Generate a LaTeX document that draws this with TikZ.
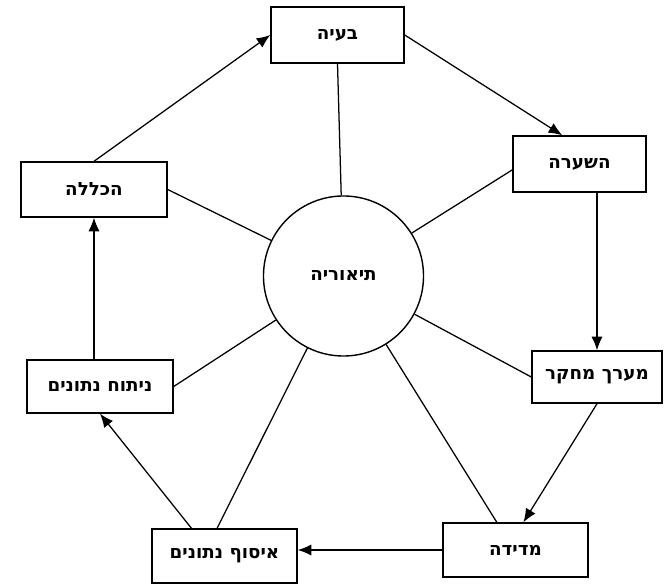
\documentclass[tikz,border=0pt]{standalone}
\usepackage{fontspec}
\newfontfamily\hebfont[Script=Hebrew]{DejaVu Sans}
\TeXXeTstate=1
\usetikzlibrary{calc,positioning,arrows.meta}
\tikzset{>={Latex[width=2.8mm,length=3.4mm]}}
\tikzset{
  stage/.style={draw,line width=1pt,minimum width=3.625cm,minimum height=1.35cm,
    font=\hebfont\bfseries\fontsize{13}{15}\selectfont},
  core/.style={draw,circle,line width=1pt,minimum size=4cm,
    font=\hebfont\bfseries\fontsize{13}{15}\selectfont},
  link/.style={line width=0.9pt}
}

\begin{document}
\begin{tikzpicture}[x=0.025cm,y=0.025cm]
        \useasboundingbox (0,0) rectangle (665,586);
        \node[core] (theory) at (343.5,310) {\beginR תיאוריה\endR};
        \node[stage,minimum width=3.325cm,minimum height=1.4cm] (problem) at (337.5,551) {\beginR בעיה\endR};
        \node[stage,minimum width=3.325cm,minimum height=1.4cm] (hypothesis) at (579.5,422) {\beginR השערה\endR};
        \node[stage,minimum width=3.25cm,minimum height=1.3cm] (design) at (597,209) {\beginR מערך מחקר\endR};
        \node[stage] (measure) at (515.5,36) {\beginR מדידה\endR};
        \node[stage] (collect) at (224.5,30) {\beginR איסוף נתונים\endR};
        \node[stage,minimum width=3.65cm,minimum height=1.325cm] (analysis) at (100,199.5) {\beginR ניתוח נתונים\endR};
        \node[stage,minimum width=3.65cm,minimum height=1.375cm] (general) at (94,396.5) {\beginR הכללה\endR};
        % the cycle
        \draw[link,->] (problem.east) -- (hypothesis.121);
        \draw[link,->] (hypothesis.south -| design.north) -- (design.north);
        \draw[link,->] (design.south) -- (measure.74);
        \draw[link,->] (measure.west) -- (collect.east |- measure.west);
        \draw[link,->] (collect.140) -- (analysis.south);
        \draw[link,->] (analysis.north -| general.south) -- (general.south);
        \draw[link,->] (general.north) -- (problem.west);
        % spokes from the theory
        \draw[link] (theory) -- (problem.south);
        \draw[link] (theory) -- (hypothesis.185);
        \draw[link] (theory) -- (design.west);
        \draw[link] (theory) -- (measure.124);
        \draw[link] (theory) -- (collect.105);
        \draw[link] (theory) -- (analysis.east);
        \draw[link] (theory) -- (general.east);
    \end{tikzpicture}
\end{document}
